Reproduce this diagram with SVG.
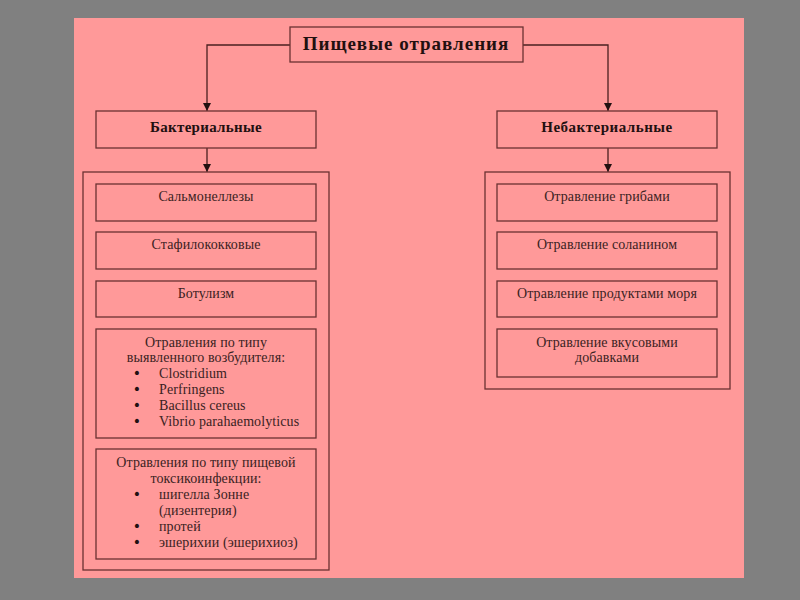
<svg xmlns="http://www.w3.org/2000/svg" width="800" height="600" viewBox="0 0 800 600">
<style>
.box{fill:none;stroke:#6a3232;stroke-width:1.3}
.conn{fill:none;stroke:#4a2020;stroke-width:1.3}
.t{font-family:"Liberation Serif","Times New Roman",serif;fill:#3a2222;font-size:14px;letter-spacing:0.1px;text-anchor:middle}
.l{font-family:"Liberation Serif","Times New Roman",serif;fill:#3a2222;font-size:14px;letter-spacing:0.1px}
.bl{font-family:"DejaVu Sans",sans-serif;fill:#221010;font-size:14px;text-anchor:middle}
.b{font-family:"Liberation Serif","Times New Roman",serif;fill:#221010;font-weight:bold;text-anchor:middle}
</style>
<defs>
<marker id="ah" viewBox="0 0 10 10" refX="10" refY="5" markerWidth="8" markerHeight="8" markerUnits="userSpaceOnUse" orient="auto">
<path d="M0,0 L10,5 L0,10 Z" fill="#221010"/>
</marker>
</defs>
<rect x="0" y="0" width="800" height="600" fill="#808080"/>
<rect x="74" y="18" width="670" height="560" fill="#ff9999"/>

<g id="connectors">
<path class="conn" d="M290,45 H207 V111" marker-end="url(#ah)"/>
<path class="conn" d="M523,45 H608 V111" marker-end="url(#ah)"/>
<path class="conn" d="M207,148 V172" marker-end="url(#ah)"/>
<path class="conn" d="M608,148 V172" marker-end="url(#ah)"/>
</g>

<g id="root">
<rect class="box" x="290" y="27" width="233" height="35"/>
<text class="b" x="406" y="50" font-size="19" letter-spacing="1">Пищевые отравления</text>
</g>

<g id="bacterial">
<rect class="box" x="96" y="111" width="220" height="37"/>
<text class="b" x="206" y="132" font-size="15" letter-spacing="0.3">Бактериальные</text>
</g>

<g id="nonbacterial">
<rect class="box" x="497" y="111" width="220" height="37"/>
<text class="b" x="607" y="132" font-size="15" letter-spacing="0.5">Небактериальные</text>
</g>

<g id="bacterial-group">
<rect class="box" x="83" y="172" width="246" height="398"/>
</g>

<g id="salmonella">
<rect class="box" x="96" y="184" width="220" height="37"/>
<text class="t" x="206" y="201">Сальмонеллезы</text>
</g>
<g id="staph">
<rect class="box" x="96" y="232" width="220" height="37"/>
<text class="t" x="206" y="249">Стафилококковые</text>
</g>
<g id="botulism">
<rect class="box" x="96" y="281" width="220" height="36"/>
<text class="t" x="206" y="298">Ботулизм</text>
</g>
<g id="pathogen">
<rect class="box" x="96" y="329" width="220" height="109"/>
<text class="t" x="206" y="347">Отравления по типу</text>
<text class="t" x="206" y="362">выявленного возбудителя:</text>
<text class="bl" x="137" y="378">•</text><text class="l" x="159" y="378">Clostridium</text>
<text class="bl" x="137" y="394">•</text><text class="l" x="159" y="394">Perfringens</text>
<text class="bl" x="137" y="410">•</text><text class="l" x="159" y="410">Bacillus cereus</text>
<text class="bl" x="137" y="426">•</text><text class="l" x="159" y="426">Vibrio parahaemolyticus</text>
</g>
<g id="toxico">
<rect class="box" x="96" y="449" width="220" height="110"/>
<text class="t" x="206" y="467">Отравления по типу пищевой</text>
<text class="t" x="206" y="483">токсикоинфекции:</text>
<text class="bl" x="137" y="499">•</text><text class="l" x="159" y="499">шигелла Зонне</text>
<text class="l" x="159" y="515">(дизентерия)</text>
<text class="bl" x="137" y="531">•</text><text class="l" x="159" y="531">протей</text>
<text class="bl" x="137" y="547">•</text><text class="l" x="159" y="547">эшерихии (эшерихиоз)</text>
</g>

<g id="nonbacterial-group">
<rect class="box" x="485" y="172" width="245" height="217"/>
</g>
<g id="mushrooms">
<rect class="box" x="497" y="184" width="220" height="37"/>
<text class="t" x="607" y="201">Отравление грибами</text>
</g>
<g id="solanine">
<rect class="box" x="497" y="232" width="220" height="37"/>
<text class="t" x="607" y="249">Отравление соланином</text>
</g>
<g id="seafood">
<rect class="box" x="497" y="281" width="220" height="36"/>
<text class="t" x="607" y="298">Отравление продуктами моря</text>
</g>
<g id="additives">
<rect class="box" x="497" y="329" width="220" height="48"/>
<text class="t" x="607" y="347">Отравление вкусовыми</text>
<text class="t" x="607" y="362">добавками</text>
</g>
</svg>
